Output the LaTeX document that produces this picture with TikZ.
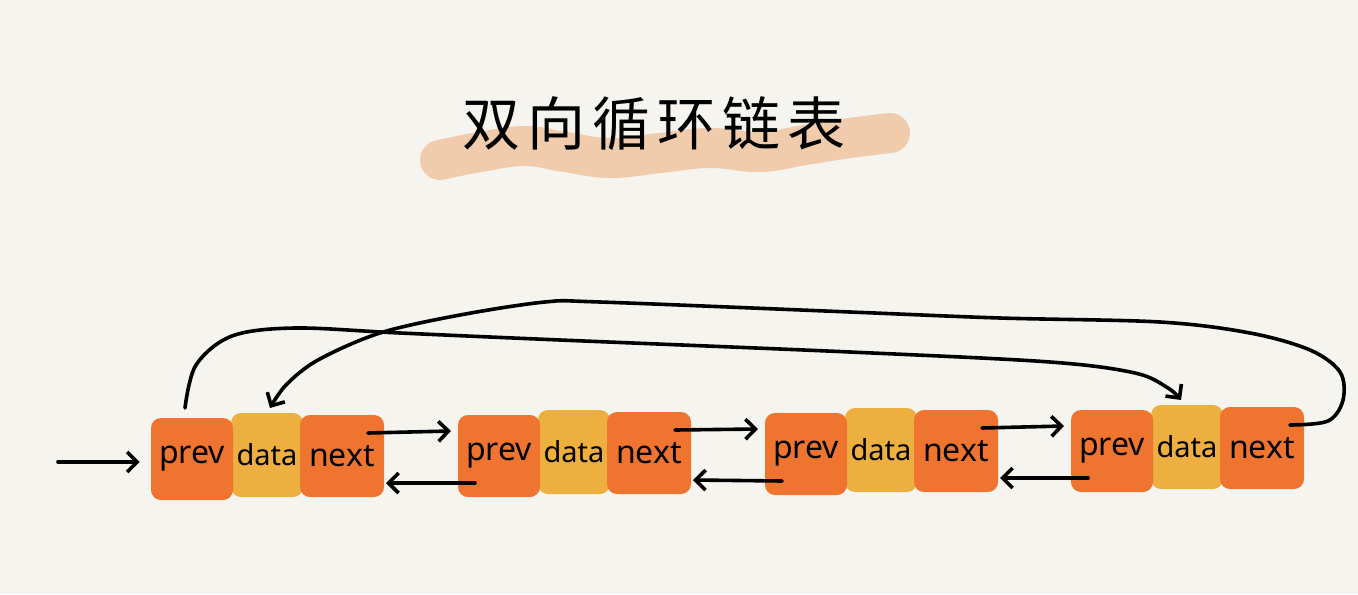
\documentclass[tikz,border=0pt]{standalone}
\usepackage{fontspec}
\setmainfont{Noto Sans}
\newfontfamily\cjk{Noto Sans CJK SC}[LetterSpace=12]
\usetikzlibrary{arrows.meta,calc}
\definecolor{bg}{HTML}{F5F4EF}
\definecolor{org}{HTML}{EE7430}
\definecolor{yel}{HTML}{EDB040}
\definecolor{brush}{HTML}{F0C39C}
\begin{document}
\begin{tikzpicture}[x=0.5pt,y=-0.5pt,
  box/.style={rounded corners=5pt, inner sep=0pt, font=\fontsize{16}{16}\selectfont, text=black},
  pbox/.style={box, fill=org, minimum width=41pt, minimum height=41pt},
  dbox/.style={box, fill=yel, minimum width=36pt, minimum height=42pt, font=\fontsize{14.5}{14.5}\selectfont},
  link/.style={line width=1.8pt, -{Straight Barb[length=5pt,width=10pt]}, line cap=round, line join=round},
  brushstroke/.style={line width=20pt, line cap=round, line join=round, brush, opacity=0.8}
]
\fill[bg] (0,0) rectangle (1358,594);
\useasboundingbox (0,0) rectangle (1358,594);

% title brush
\draw[brushstroke] plot[smooth, tension=0.7] coordinates {(440,160) (480,152) (525,146) (565,152) (610,158) (660,153) (710,148) (760,152) (805,145) (850,138) (890,133)};
\node[font=\cjk\fontsize{29}{29}\selectfont] (title) at (654,124) {双向循环链表};

% nodes
\foreach \i/\dx/\dy in {1/0/0,2/307/3,3/614/5,4/920/8}{
  \node[dbox] (d\i) at (267+\dx,455-\dy) {data};
  \node[pbox] (p\i) at (192+\dx,459-\dy) {prev};
  \node[pbox, minimum width=42pt] (n\i) at (342+\dx,456-\dy) {next};
}

% entry arrow
\coordinate (start) at (58,462);
\draw[link] (start) -- ([shift={(-11,3)}]p1.west);

% forward and backward links
\foreach \a/\b in {1/2,2/3,3/4}{
  \draw[link] ([shift={(26,-23)}]n\a.center) -- ([shift={(-48,-25)}]p\b.center);
  \draw[link] ([shift={(-24,27)}]p\b.center) -- ([shift={(44,27)}]n\a.center);
}

% circular links
\coordinate (a0) at ([shift={(-7,-51)}]p1.center);
\coordinate (a1) at ([shift={(-6,-47)}]d4.center);
\draw[link] plot[smooth, tension=0.55] coordinates {(a0) (196,365) (232,336) (295,328) (400,333) (560,340) (850,352) (1050,362) (1135,373) (1168,388) (a1)};

\coordinate (b0) at ([shift={(28,-23)}]n4.center);
\coordinate (b1) at ([shift={(3,-47)}]d1.center);
\draw[link] plot[smooth, tension=0.55] coordinates {(b0) (1328,421) (1343,400) (1340,372) (1310,350) (1250,333) (1160,322) (1000,318) (850,312) (600,302) (545,302) (460,315) (380,333) (318,360) (286,385) (b1)};
\end{tikzpicture}
\end{document}
